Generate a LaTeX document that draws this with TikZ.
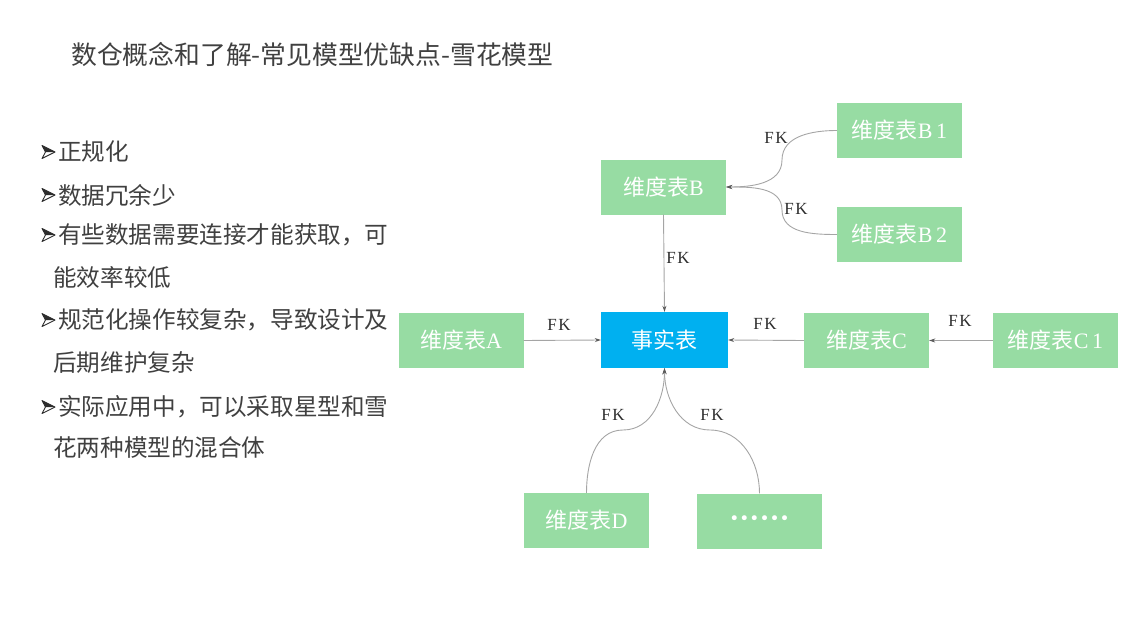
\documentclass[tikz,border=0pt]{standalone}
\usepackage{fontspec}
\setmainfont{Liberation Serif}
\newfontfamily\cjk{Noto Sans CJK SC}
\newfontfamily\dvs{DejaVu Sans}
\usetikzlibrary{arrows.meta}
\definecolor{boxgreen}{RGB}{151,220,163}
\definecolor{factblue}{RGB}{0,176,240}
\definecolor{txt}{RGB}{64,64,64}
\definecolor{fkc}{RGB}{45,45,45}
\definecolor{conn}{RGB}{165,165,165}
\definecolor{tipc}{RGB}{90,90,90}
\begin{document}
\begin{tikzpicture}[x=1pt,y=-1pt,
  tbl/.style={minimum width=125pt,minimum height=55pt,inner sep=0pt,fill=boxgreen,text=white,font=\fontsize{22}{26}\selectfont},
  fact/.style={tbl,fill=factblue,minimum width=127pt,minimum height=56pt},
  fk/.style={font=\fontsize{17}{19}\selectfont,text=fkc,inner sep=0pt},
  link/.style={draw=conn,line width=0.9pt,-{Stealth[length=6pt,width=4pt,color=tipc]}},
  li/.style={anchor=west,inner sep=0pt,text=txt,font=\cjk\fontsize{23.6}{27}\selectfont},
  bulletmark/.pic={
    \fill[fkc] (0,-6.5) -- (13,0) -- (3.5,0) -- cycle;
    \draw[fkc,line width=0.9pt,line join=round] (0,-6.5) -- (13,0) -- (0,6.5) -- (3.5,0) -- cycle;
  }]
\path[use as bounding box] (0,0) rectangle (1128,624);

% title
\node[anchor=west,inner sep=0pt,text=txt,font=\cjk\fontsize{25.8}{29}\selectfont] (title) at (71,55) {数仓概念和了解-常见模型优缺点-雪花模型};

% bullet list
\pic at (42,152) {bulletmark};
\node[li] (l1) at (58,152) {正规化};
\pic at (42,195) {bulletmark};
\node[li] (l2) at (58,195) {数据冗余少};
\pic at (42,235) {bulletmark};
\node[li] (l3) at (58,235) {有些数据需要连接才能获取，可};
\node[li] (l4) at (53,277) {能效率较低};
\pic at (42,320) {bulletmark};
\node[li] (l5) at (58,320) {规范化操作较复杂，导致设计及};
\node[li] (l6) at (53,363) {后期维护复杂};
\pic at (42,407) {bulletmark};
\node[li] (l7) at (58,407) {实际应用中，可以采取星型和雪};
\node[li] (l8) at (53,448) {花两种模型的混合体};

% tables
\node[tbl] (B1) at (899.5,130.5) {{\cjk 维度表}B\,1};
\node[tbl] (B)  at (663.5,187)   {{\cjk 维度表}B};
\node[tbl] (B2) at (899.5,234.5) {{\cjk 维度表}B\,2};
\node[tbl] (A)  at (461,340.5)   {{\cjk 维度表}A};
\node[fact] (F) at (664.5,340)   {{\cjk 事实表}};
\node[tbl] (C)  at (866.5,340.5) {{\cjk 维度表}C};
\node[tbl] (C1) at (1055.5,340.5) {{\cjk 维度表}C\,1};
\node[tbl] (D)  at (586.5,520.5) {{\cjk 维度表}D};
\node[tbl] (E)  at (759.5,521)   {{\dvs\fontsize{17}{19}\selectfont \raisebox{1pt}{••••••}}};

% helper points
\coordinate (m1) at (782,160);
\coordinate (m2) at (782,210);
\coordinate (md) at (623,430);
\coordinate (me) at (710,430);

% connectors
\draw[link] (B.south) -- (F.north);
\draw[link] (A.east) -- (F.west);
\draw[link] (C.west) -- (F.east);
\draw[link] (C1.west) -- (C.east);
\draw[link] (B1.west) to[out=180,in=90] (m1) to[out=-90,in=0] (B.east);
\draw[link] (B2.west) to[out=180,in=-90] (m2) to[out=90,in=0] (B.east);
\draw[link] (D.north) to[out=90,in=180] (md) to[out=0,in=-90] (F.south);
\draw[link] (E.north) to[out=90,in=0] (me) to[out=180,in=-90] (F.south);

% FK labels
\node[fk] (k1) at (776,138) {F\kern1.5pt K};
\node[fk] (k2) at (796,209) {F\kern1.5pt K};
\node[fk] (k3) at (678,258) {F\kern1.5pt K};
\node[fk] (k4) at (559,325) {F\kern1.5pt K};
\node[fk] (k5) at (765,324) {F\kern1.5pt K};
\node[fk] (k6) at (960,321) {F\kern1.5pt K};
\node[fk] (k7) at (613,415) {F\kern1.5pt K};
\node[fk] (k8) at (712,415) {F\kern1.5pt K};
\end{tikzpicture}
\end{document}
